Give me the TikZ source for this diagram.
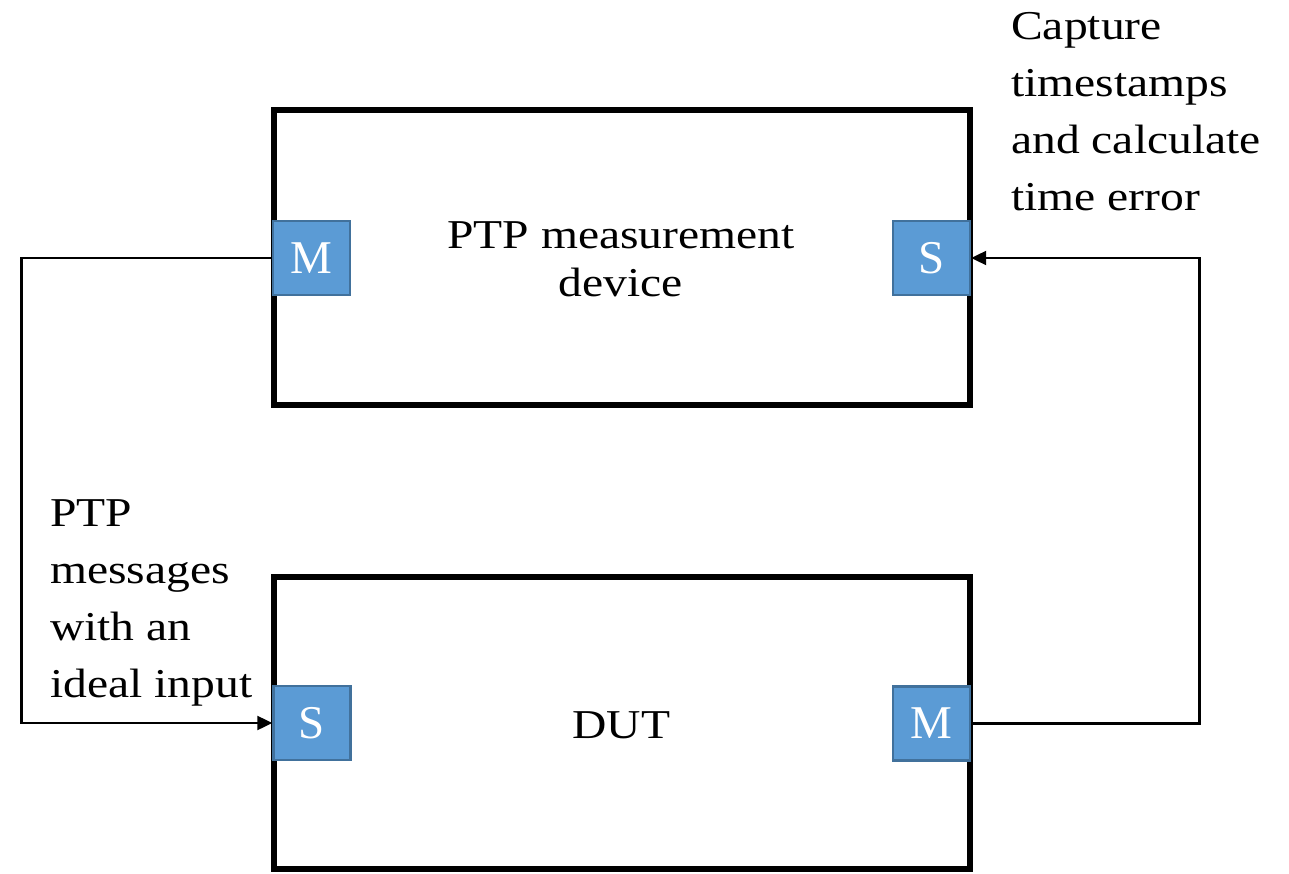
\documentclass[tikz,border=0pt]{standalone}
\usepackage{fontspec}
\setmainfont{Liberation Serif}
\usepackage{graphicx}
\usetikzlibrary{arrows.meta}
\definecolor{portfill}{HTML}{5B9BD5}
\definecolor{portline}{HTML}{41719C}
% multi-line label, slightly widened
\newcommand{\widetext}[2]{\scalebox{1.16}[1]{\begin{tabular}[t]{@{}#1@{}}#2\end{tabular}}}
\tikzset{
  unitbox/.style={draw=black, line width=5.5pt, minimum width=696pt, inner sep=0pt},
  port/.style={draw=portline, fill=portfill, line width=2.4pt, minimum width=77pt,
    minimum height=74pt, inner sep=0pt, text=white, font=\fontsize{47}{50}\selectfont},
  conn/.style={draw=black, line width=2.2pt, -{Triangle[length=15pt,width=14pt]}},
  label/.style={inner sep=0pt, font=\fontsize{41}{57}\selectfont},
}
\begin{document}
\begin{tikzpicture}[x=1pt, y=-1pt]
\useasboundingbox (0,0) rectangle (1289,874);
% device boxes
\node[unitbox, minimum height=295pt] (meas) at (622,257.5) {};
\node[unitbox, minimum height=292pt] (dut) at (622,723) {};
% ports
\node[port] (pm) at (311.5,258) {M};
\node[port] (ps) at (931.5,258) {S};
\node[port] (ds) at (312,723) {S};
\node[port] (dm) at (931.5,723.5) {M};
% texts
\node[label, anchor=base] (meastext) at (621,249)
  {\fontsize{41}{47.5}\selectfont\widetext{c}{PTP measurement\\device}};
\node[label, anchor=base] (duttext) at (621.5,738) {\widetext{c}{DUT}};
\node[label, anchor=base west] (capture) at (1011,40)
  {\widetext{l}{Capture\\timestamps\\and calculate\\time error}};
\node[label, anchor=base west] (ptpmsg) at (50,526)
  {\widetext{l}{PTP\\messages\\with an\\ideal input}};
% connectors
\coordinate (lturn) at (21.5,258);
\coordinate (rturn) at (1199.5,723.5);
\draw[conn] (pm.west) -- (lturn) |- (ds.west);
\draw[conn] (dm.east) -- (rturn) |- (ps.east);
\end{tikzpicture}
\end{document}
